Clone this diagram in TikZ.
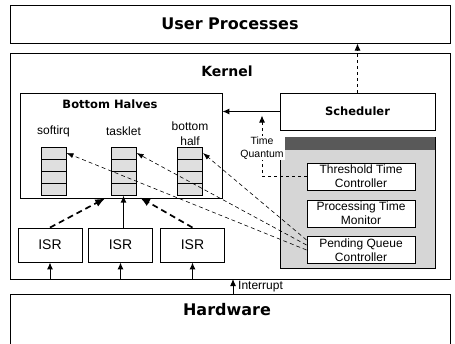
\documentclass[tikz,border=0pt]{standalone}
\usepackage{fontspec}
\setmainfont{Liberation Sans}
\newfontfamily\heavyfont{DejaVu Sans}
\usetikzlibrary{arrows.meta}

\begin{document}
\begin{tikzpicture}[
  x=1pt,y=-1pt,
  frame/.style={draw=black,line width=1pt,inner sep=0pt},
  ttl/.style={font=\heavyfont\bfseries\fontsize{16}{18}\selectfont},
  sttl/.style={font=\heavyfont\bfseries\fontsize{11.5}{13}\selectfont},
  lbl/.style={align=center,inner sep=0pt,font=\fontsize{12}{14}\selectfont},
  box/.style={draw,line width=0.9pt,fill=white,align=center,inner sep=0pt,
              font=\fontsize{12}{14}\selectfont},
  cell/.style={draw,line width=1pt,fill=gray!25,minimum width=25pt,
               minimum height=12pt,inner sep=0pt},
  ar/.style={-{Latex[length=7pt,width=6pt]},line width=1pt},
  dar/.style={ar,dashed},
  thk/.style={-{Latex[length=10pt,width=8pt]},line width=1.7pt,dash pattern=on 6pt off 4pt},
  thn/.style={-{Latex[length=7pt,width=5pt]},line width=0.6pt,dash pattern=on 4pt off 3pt}
]
\useasboundingbox (0,0) rectangle (455,343);

% ---- layers
\node[frame,ttl,minimum width=440pt,minimum height=38pt] (usr) at (230,24) {User Processes};
\node[frame,minimum width=440pt,minimum height=226pt] (krn) at (230,166) {};
\node[ttl,font=\heavyfont\bfseries\fontsize{14}{16}\selectfont] (krnt) at (227,71) {Kernel};
\node[frame,minimum width=440pt,minimum height=60pt] (hw) at (230,324) {};
\node[ttl] (hwt) at (227,310) {Hardware};

% ---- bottom halves
\node[frame,line width=0.9pt,minimum width=202pt,minimum height=105pt] (bh) at (121,145.5) {};
\node[sttl] (bht) at (110,104) {Bottom Halves};
\node[lbl] (sirqt) at (53.5,131) {softirq};
\node[lbl] (tlett) at (123.5,131) {tasklet};
\node[lbl,font=\fontsize{12}{15}\selectfont] (bhlft) at (190,134) {bottom\\half};
\foreach \nm/\x in {sirq/53.5,tlet/123.5,bhlf/190}
  \foreach \k in {1,...,4}
    \node[cell] (\nm\k) at (\x,141+12*\k) {};

% ---- scheduler side
\node[frame,line width=0.9pt,sttl,fill=white,minimum width=155pt,minimum height=37pt] (sch) at (357.5,111.5) {Scheduler};
\node[draw,line width=0.9pt,fill=gray!32,minimum width=155pt,minimum height=131pt] (ext) at (357.5,202.5) {};
\node[fill=black!65,anchor=north,minimum width=154pt,minimum height=13pt,inner sep=0pt] (exth) at ([yshift=-0.45pt]ext.north) {};
\node[box,minimum width=108pt,minimum height=27pt] (thr) at (361,176.5) {Threshold Time\\Controller};
\node[box,minimum width=108pt,minimum height=27pt] (prc) at (361,213.5) {Processing Time\\Monitor};
\node[box,minimum width=108pt,minimum height=27pt] (pqc) at (361,250) {Pending Queue\\Controller};

% ---- ISRs
\foreach \nm/\x in {isr1/50,isr2/120.5,isr3/192.5}
  \node[box,font=\fontsize{14}{16}\selectfont,minimum width=64pt,minimum height=34pt] (\nm) at (\x,245) {ISR};

% ---- arrows
\draw[ar] (sch.west) -- (sch.west -| bh.east);
\draw[dar] (sch.north) -- (sch.north |- usr.south);
\coordinate (tq) at (262,176.5);
\draw[dar,shorten >=4pt] (thr.west) -- (tq) -- (tq |- sch.west);
\node[lbl,fill=white,inner sep=1pt,font=\fontsize{10.5}{12.5}\selectfont] (tql) at (262,148) {Time\\Quantum};
\foreach \nm in {isr1,isr2,isr3}
  \draw[ar] (\nm.south |- krn.south) -- (\nm.south);
\coordinate (irq) at (233,279);
\draw[ar] (irq |- hw.north) -- (irq);
\node[lbl,anchor=west] (irqt) at (238,286.5) {Interrupt};

% ---- ISR -> tasklet
\draw[thk,shorten >=6pt] (isr1.north) -- (tlet4.south west);
\draw[ar,line width=1.3pt] (tlet4.south |- isr2.north) -- (tlet4.south);
\draw[thk,shorten >=4pt] (isr3.north) -- (tlet4.south east);

% ---- pending queue -> queues
\draw[thn] ([yshift=10pt]pqc.west) -- (bhlf1.east);
\draw[thn] ([yshift=5pt]pqc.west) -- (tlet1.east);
\draw[thn] (pqc.west) -- (sirq1.east);
\end{tikzpicture}
\end{document}
